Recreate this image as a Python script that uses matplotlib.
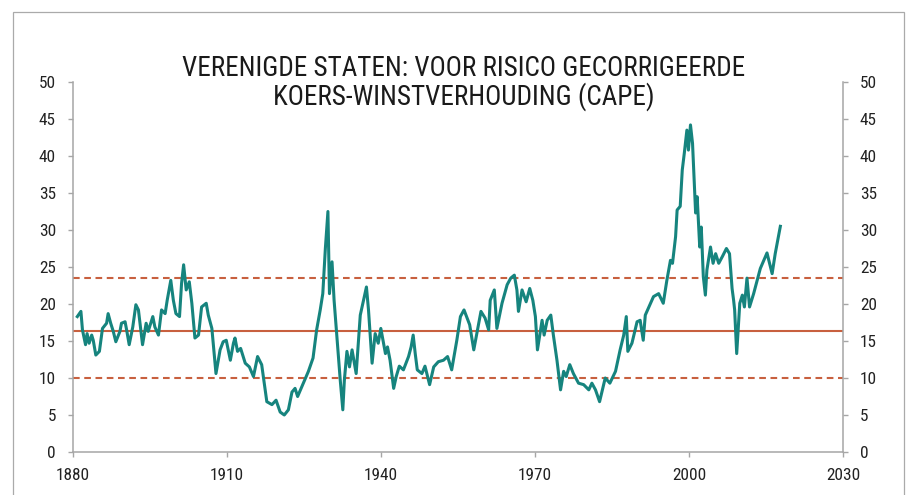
import matplotlib
matplotlib.use("Agg")
import matplotlib.pyplot as plt
from matplotlib import font_manager
from matplotlib.patches import Rectangle

names = {f.name for f in font_manager.fontManager.ttflist}
fam = "Liberation Sans"
for cand in ["Liberation Sans Narrow", "Roboto Condensed", "Open Sans Condensed"]:
    if cand in names:
        fam = cand
        break
plt.rcParams['font.family'] = [fam, 'DejaVu Sans']

years = [1880.9, 1881.6, 1881.9, 1882.5, 1882.8, 1883.2, 1883.7, 1884.0, 1884.5, 1885.2,
         1885.8, 1886.6, 1886.9, 1887.4, 1887.9, 1888.4, 1889.2, 1889.5, 1890.2, 1890.5,
         1891.0, 1891.7, 1892.3, 1892.8, 1893.2, 1893.6, 1894.3, 1894.7, 1895.6, 1896.0,
         1896.7, 1897.3, 1898.0, 1898.4, 1899.1, 1899.6, 1900.1, 1900.8, 1901.2, 1901.6,
         1902.1, 1902.7, 1903.2, 1903.8, 1904.5, 1905.1, 1906.0, 1906.4, 1907.1, 1907.9,
         1908.7, 1909.3, 1909.9, 1910.7, 1911.3, 1911.6, 1912.1, 1912.7, 1913.6, 1914.4,
         1915.2, 1916.0, 1916.8, 1917.8, 1918.8, 1919.6, 1920.4, 1921.2, 1922.0, 1922.7,
         1923.3, 1923.8, 1924.9, 1925.9, 1926.8, 1927.5, 1928.2, 1928.7, 1929.2, 1929.7,
         1930.0, 1930.5, 1930.9, 1931.4, 1932.1, 1932.6, 1932.9, 1933.4, 1933.9, 1934.4,
         1935.2, 1936.0, 1936.8, 1937.2, 1937.6, 1938.3, 1938.9, 1939.5, 1940.0, 1940.9,
         1941.3, 1941.8, 1942.5, 1943.0, 1943.6, 1944.4, 1945.4, 1945.9, 1946.3, 1946.7,
         1947.1, 1948.0, 1948.6, 1949.5, 1950.3, 1951.2, 1952.2, 1953.0, 1953.8, 1954.8,
         1955.5, 1956.2, 1956.8, 1957.3, 1958.1, 1958.7, 1959.5, 1960.3, 1961.0, 1961.3,
         1962.1, 1962.6, 1963.6, 1964.6, 1965.3, 1966.0, 1966.5, 1966.8, 1967.5, 1968.3,
         1969.0, 1969.6, 1970.1, 1970.5, 1971.4, 1971.8, 1972.4, 1973.1, 1973.6, 1974.3,
         1975.0, 1975.6, 1976.1, 1976.8, 1977.5, 1978.5, 1979.5, 1980.5, 1981.1, 1981.8,
         1982.6, 1983.7, 1984.6, 1985.7, 1986.6, 1987.3, 1987.8, 1988.1, 1988.9, 1989.9,
         1990.5, 1991.1, 1991.5, 1992.2, 1993.1, 1994.1, 1995.0, 1995.7, 1996.4, 1996.8,
         1997.4, 1997.7, 1998.3, 1998.7, 1999.1, 1999.6, 1999.9, 2000.3, 2000.7, 2001.3,
         2001.6, 2002.1, 2002.4, 2002.8, 2003.2, 2003.5, 2004.2, 2004.7, 2005.2, 2005.8,
         2006.5, 2007.3, 2007.9, 2008.4, 2008.7, 2008.9, 2009.3, 2009.9, 2010.4, 2010.8,
         2011.3, 2011.8, 2012.6, 2013.9, 2015.2, 2016.2, 2016.8, 2017.8]

cape = [18.3, 19.0, 16.5, 14.5, 16.0, 14.7, 15.8, 15.1, 13.1, 13.6,
        16.7, 17.4, 18.7, 17.4, 16.3, 14.9, 16.3, 17.4, 17.6, 16.5,
        14.5, 16.9, 19.9, 19.2, 16.9, 14.5, 17.4, 16.3, 18.3, 16.9,
        15.8, 19.2, 18.7, 20.5, 23.2, 20.5, 18.7, 18.3, 22.8, 25.3,
        21.9, 23.0, 20.1, 15.4, 15.8, 19.6, 20.1, 18.5, 16.7, 10.6,
        13.8, 14.9, 15.1, 12.4, 14.7, 15.4, 13.6, 14.0, 12.0, 11.5,
        10.2, 12.9, 11.8, 6.8, 6.4, 7.0, 5.4, 5.0, 5.7, 8.1,
        8.6, 7.5, 9.3, 10.9, 12.7, 16.5, 19.2, 21.4, 27.5, 32.5,
        21.4, 25.7, 20.5, 16.0, 9.7, 5.7, 9.7, 13.6, 11.5, 13.8,
        10.6, 18.5, 21.0, 22.3, 19.2, 12.0, 16.0, 14.7, 16.7, 13.3,
        14.2, 12.4, 8.6, 10.2, 11.6, 11.1, 12.9, 14.2, 15.8, 13.3,
        11.1, 10.6, 11.6, 9.1, 11.5, 12.2, 12.4, 12.9, 11.1, 15.1,
        18.3, 19.2, 18.1, 17.2, 13.8, 16.0, 19.0, 18.1, 16.5, 20.5,
        21.9, 16.7, 20.1, 22.6, 23.5, 23.9, 21.9, 19.0, 21.9, 20.3,
        22.1, 20.5, 18.3, 13.8, 17.8, 15.8, 17.8, 18.5, 15.8, 12.4,
        8.4, 10.9, 10.2, 11.8, 10.6, 9.3, 9.1, 8.4, 9.3, 8.4,
        6.8, 10.0, 9.3, 10.9, 13.8, 15.8, 18.3, 13.6, 14.7, 17.6,
        17.8, 15.1, 18.5, 19.6, 21.0, 21.4, 20.1, 23.2, 25.9, 25.5,
        29.1, 32.7, 33.2, 38.1, 40.4, 43.5, 40.8, 44.2, 41.7, 32.3,
        34.5, 27.7, 30.4, 23.7, 21.2, 24.6, 27.7, 25.5, 26.8, 25.5,
        26.4, 27.5, 26.8, 22.1, 20.5, 19.2, 13.3, 20.1, 21.2, 19.6,
        23.5, 19.6, 21.4, 24.8, 26.9, 24.1, 26.8, 30.5]

mean_level = 16.4
upper_level = 23.5
lower_level = 10.0

x_ticks = [1880, 1910, 1940, 1970, 2000, 2030]
y_ticks = [0, 5, 10, 15, 20, 25, 30, 35, 40, 45, 50]
title_lines = ["VERENIGDE STATEN: VOOR RISICO GECORRIGEERDE",
               "KOERS-WINSTVERHOUDING (CAPE)"]

W, H = 907, 495
fig = plt.figure(figsize=(W / 100, H / 100), dpi=100)
ax = fig.add_axes([72.7 / W, 43 / H, (843 - 72.7) / W, 370 / H])

teal = '#16847E'
red = '#C8603F'
grey = '#A6A6A6'

ax.axhline(mean_level, color=red, lw=1.5, zorder=2)
ax.axhline(upper_level, color=red, lw=1.5, ls=(0, (3.2, 2.2)), zorder=2)
ax.axhline(lower_level, color=red, lw=1.5, ls=(0, (3.2, 2.2)), zorder=2)
ax.plot(years, cape, color=teal, lw=2.2, zorder=3, solid_joinstyle='round')

ax.set_xlim(1880, 2030)
ax.set_ylim(0, 50)
ax.set_xticks(x_ticks)
ax.set_yticks(y_ticks)

for s in ['left', 'right', 'bottom']:
    ax.spines[s].set_color(grey)
    ax.spines[s].set_linewidth(1.1)
ax.spines['top'].set_visible(False)

ax.tick_params(axis='y', which='both', left=True, right=True, labelleft=True,
               labelright=True, direction='out', length=3.6, width=1.0,
               color=grey, labelsize=12.4, labelcolor='#222222', pad=8.5)
ax.tick_params(axis='x', direction='out', length=3.6, width=1.0, color=grey,
               labelsize=12.4, labelcolor='#222222', pad=8)

fig.text(464 / W, 1 - 76 / H, title_lines[0], ha='center', va='baseline',
         fontsize=19.5, color='#1a1a1a')
fig.text(464 / W, 1 - 105 / H, title_lines[1], ha='center', va='baseline',
         fontsize=19.5, color='#1a1a1a')

fig.patches.append(Rectangle((12.7 / W, -0.05), (903.7 - 12.7) / W, 1.05 - 12.3 / H,
                             transform=fig.transFigure, fill=False,
                             edgecolor='#AAAAAA', lw=0.9))

fig.savefig('out.png', dpi=100)
